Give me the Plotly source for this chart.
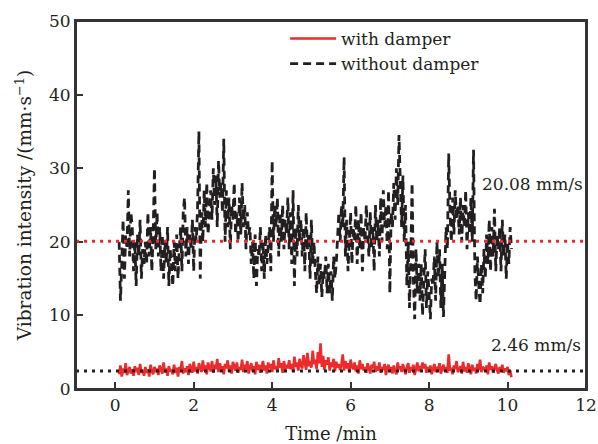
import plotly.graph_objects as go

# Time grid: one sample every 2 s from 0.1 min to 10.1 min
t0 = 0.1
dt = 1 / 30
n_samples = 301
time_min = [round(t0 + i * dt, 4) for i in range(n_samples)]

without_damper = [
    20, 12, 17, 23, 15, 21, 19, 27, 18, 24,
    22, 16, 20, 14, 21, 18, 23, 15, 19, 17,
    20, 17, 24, 18, 22, 16, 21, 30, 19, 24,
    18, 22, 16, 21, 15, 20, 17, 22, 14, 19,
    17, 14, 20, 16, 21, 15, 19, 22, 16, 24,
    26, 18, 22, 17, 21, 19, 23, 16, 22, 20,
    25, 35, 15, 24, 20, 27, 22, 28, 21, 25,
    27, 23, 30, 25, 29, 22, 31, 26, 28, 24,
    34, 20, 27, 22, 26, 19, 25, 23, 28, 21,
    24, 20, 26, 21, 28, 22, 25, 19, 24, 21,
    22, 17, 20, 15, 21, 14, 19, 18, 22, 16,
    20, 15, 21, 17, 19, 22, 16, 31, 20, 25,
    22, 26, 18, 24, 20, 25, 19, 23, 21, 26,
    19, 24, 17, 27, 14, 22, 18, 25, 20, 23,
    18, 22, 16, 24, 19, 21, 15, 23, 17, 20,
    16, 13, 18, 14, 17, 12.5, 16, 15, 18, 13,
    17, 13, 16, 12, 18, 15, 17, 21, 24, 20,
    25, 22, 31.5, 18, 23, 16, 21, 24, 17, 22,
    20, 25, 17, 23, 19, 24, 16, 22, 20, 25,
    21, 18, 24, 19, 22, 16, 25, 20, 23, 18,
    26, 20, 27, 22, 25, 19, 27, 13, 24, 22,
    28, 23, 30, 25, 34.5, 27, 22, 29, 20, 25,
    14, 20, 11, 18, 28, 15, 9.5, 19, 13, 17,
    12, 17, 10, 15, 19, 11, 16, 13, 9.5, 15,
    14, 18, 12, 20, 15, 19, 11, 17, 9.8, 16,
    22, 19, 32, 24, 20, 26, 21, 27, 23, 25,
    21, 26, 20, 25, 22, 27, 19, 24, 21, 26,
    20, 32.5, 16, 12, 18, 14, 11.5, 17, 13, 19,
    15, 21, 17, 23, 16, 22, 18, 24.5, 16, 21,
    19, 22, 16, 23, 18, 21, 15, 20, 17, 22,
    19,
]

with_damper = [
    2.0, 3.2, 1.7, 2.8, 2.2, 3.5, 1.9, 2.6, 3.0, 2.1,
    2.7, 1.8, 3.1, 2.3, 2.9, 1.9, 3.4, 2.2, 2.6, 1.8,
    3.0, 2.2, 2.7, 1.7, 3.3, 2.4, 2.0, 3.0, 2.3, 2.8,
    1.9, 3.2, 2.5, 2.1, 3.6, 2.3, 2.8, 1.8, 3.1, 2.4,
    2.6, 2.0, 3.3, 2.2, 2.9, 1.7, 3.0, 2.5, 3.8, 2.1,
    2.8, 2.3, 3.1, 1.9, 3.4, 2.6, 2.2, 3.7, 2.4, 3.0,
    2.1, 3.5, 2.7, 2.3, 3.9, 2.5, 3.2, 2.0, 3.6, 2.8,
    2.4, 3.8, 2.2, 3.3, 2.7, 4.1, 2.3, 3.5, 2.6, 3.1,
    2.0, 3.4, 2.8, 3.9, 2.4, 3.2, 2.1, 3.7, 2.9, 2.5,
    3.6, 2.2, 3.0, 2.6, 4.0, 2.3, 3.3, 2.7, 3.8, 2.1,
    2.9, 3.5, 2.4, 3.1, 2.0, 3.7, 2.6, 3.3, 2.2, 3.0,
    3.8, 2.5, 3.2, 2.1, 3.6, 2.8, 3.4, 2.3, 3.9, 2.7,
    3.1, 2.4, 4.2, 2.9, 3.5, 2.2, 3.8, 2.6, 3.3, 2.8,
    3.9, 2.7, 3.4, 2.3, 4.4, 3.0, 3.6, 2.5, 4.1, 3.2,
    2.8, 4.6, 3.3, 2.6, 4.9, 3.1, 3.8, 2.9, 5.2, 3.4,
    4.0, 2.7, 5.0, 3.5, 6.2, 3.0, 4.5, 2.6, 3.9, 3.3,
    4.3, 2.5, 3.6, 3.0, 4.1, 2.4, 3.7, 2.9, 3.4, 2.6,
    3.4, 4.7, 2.5, 3.8, 2.8, 3.5, 2.3, 4.0, 3.0, 2.7,
    3.6, 2.4, 3.2, 2.1, 3.9, 2.7, 3.4, 2.5, 3.0, 2.2,
    3.5, 2.6, 2.1, 3.3, 2.8, 3.7, 2.3, 3.1, 2.5, 3.6,
    2.2, 3.0, 2.6, 3.4, 1.9, 2.9, 3.3, 2.4, 3.0, 2.1,
    3.2, 2.5, 2.0, 3.6, 2.7, 3.1, 2.3, 3.4, 2.6, 2.0,
    2.9, 3.5, 2.2, 3.0, 2.5, 3.3, 1.9, 2.8, 3.6, 2.4,
    3.1, 2.6, 3.6, 2.8, 3.4, 2.2, 3.0, 2.5, 3.2, 2.0,
    2.7, 3.4, 2.3, 3.0, 2.6, 3.5, 2.1, 2.9, 3.3, 2.4,
    3.0, 2.2, 4.7, 2.5, 2.9, 2.0, 3.2, 2.7, 3.8, 2.3,
    2.6, 3.1, 2.1, 3.7, 2.4, 3.0, 2.2, 3.5, 2.7, 2.0,
    3.3, 2.5, 2.9, 2.1, 3.4, 2.6, 4.0, 2.3, 3.0, 2.8,
    2.4, 3.2, 2.0, 3.6, 2.6, 3.1, 2.2, 2.9, 3.4, 2.5,
    2.1, 3.0, 2.6, 3.3, 2.2, 2.8, 2.4, 3.0, 1.9, 2.5,
    1.6,
]

mean_without = 20.08
mean_with = 2.46
mean_labels = ["20.08 mm/s", "2.46 mm/s"]

x_ticks = [0, 2, 4, 6, 8, 10, 12]
y_ticks = [0, 10, 20, 30, 40, 50]

FONT = "DejaVu Serif"
RED = "#ee2a2a"
INK = "#231f20"
FRAME = "#333333"

fig = go.Figure()
fig.add_trace(go.Scatter(
    x=time_min, y=with_damper, mode="lines", name="with damper",
    line=dict(color=RED, width=2.6),
))
fig.add_trace(go.Scatter(
    x=time_min, y=without_damper, mode="lines", name="without damper",
    line=dict(color=INK, width=2.8, dash="8px,5px"),
))

# mean reference lines
fig.add_shape(type="line", xref="x", yref="y", x0=-1, x1=12, y0=mean_without, y1=mean_without,
              line=dict(color=RED, width=3, dash="3px,5px"), layer="above")
fig.add_shape(type="line", xref="x", yref="y", x0=-1, x1=12, y0=mean_with, y1=mean_with,
              line=dict(color=INK, width=3, dash="3px,5px"), layer="above")
# plot frame
fig.add_shape(type="rect", xref="paper", yref="paper", x0=0, x1=1, y0=0, y1=1,
              line=dict(color=FRAME, width=2), fillcolor="rgba(0,0,0,0)", layer="above")

fig.add_annotation(x=9.30, y=27.85, text=mean_labels[0], showarrow=False, xanchor="left",
                   yanchor="middle", font=dict(family=FONT, size=17, color=INK))
fig.add_annotation(x=9.52, y=6.0, text=mean_labels[1], showarrow=False, xanchor="left",
                   yanchor="middle", font=dict(family=FONT, size=17, color=INK))

axis_common = dict(
    showgrid=False, zeroline=False, showline=True, linecolor=FRAME, linewidth=2,
    mirror=True, ticks="inside", ticklen=7, tickwidth=1.5, tickcolor=FRAME,
    tickfont=dict(family=FONT, size=17, color=INK), automargin=False,
)

fig.update_layout(
    width=598, height=444,
    margin=dict(l=76, r=12, t=21, b=55),
    paper_bgcolor="white", plot_bgcolor="white",
    font=dict(family=FONT, color=INK),
    xaxis=dict(range=[-1, 12], tickvals=x_ticks, ticktext=[str(v) for v in x_ticks],
               title=dict(text="Time /min", font=dict(family=FONT, size=18), standoff=14),
               **axis_common),
    yaxis=dict(range=[0, 50], tickvals=y_ticks, ticktext=[str(v) for v in y_ticks],
               title=dict(text="Vibration intensity /(mm·s<sup>−1</sup>)",
                          font=dict(family=FONT, size=18.5), standoff=12),
               **axis_common),
    legend=dict(x=0.41, y=1.0, xanchor="left", yanchor="top", bgcolor="rgba(0,0,0,0)",
                font=dict(family=FONT, size=17, color=INK), tracegroupgap=0,
                itemwidth=46),
    showlegend=True,
)

fig.write_html("out.html")
